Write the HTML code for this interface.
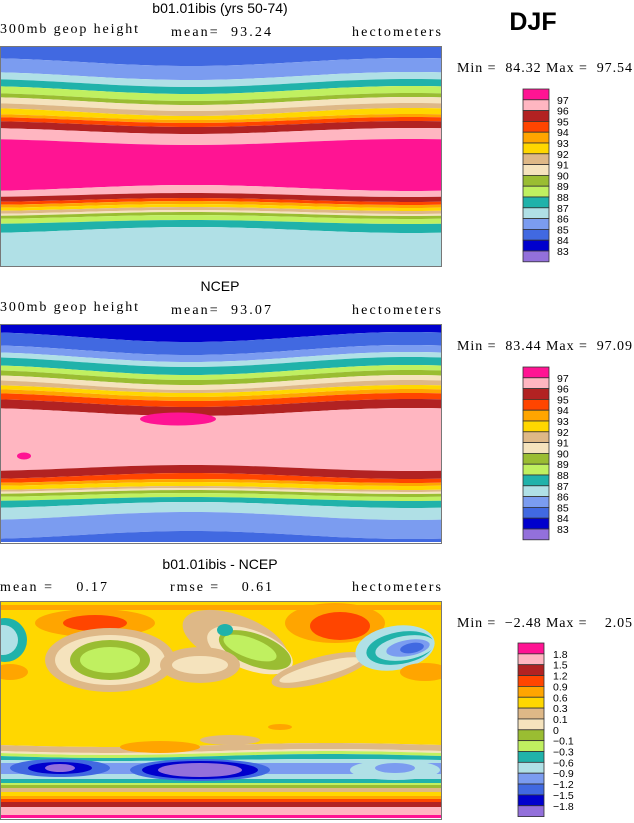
<!DOCTYPE html>
<html><head><meta charset="utf-8"><style>
html,body{margin:0;padding:0;background:#fff;width:634px;height:823px;overflow:hidden}
svg{display:block}
.t{font-family:"Liberation Sans",sans-serif;font-size:14px}
.s{font-family:"Liberation Serif",serif;font-size:14px;white-space:pre}
.l{font-family:"Liberation Sans",sans-serif;font-size:10.5px}
</style></head><body>
<svg id="s" width="634" height="823" xmlns="http://www.w3.org/2000/svg" xml:space="preserve">
<defs>
<clipPath id="c1"><rect x="1" y="47" width="440" height="219"/></clipPath>
<clipPath id="c2"><rect x="1" y="325" width="440" height="218"/></clipPath>
<clipPath id="c3"><rect x="1" y="602" width="440" height="217"/></clipPath>
</defs>
<text x="220" y="13" class="t" text-anchor="middle">b01.01ibis (yrs 50-74)</text>
<text x="0" y="33" class="s" textLength="138" lengthAdjust="spacing">300mb geop height</text>
<text x="171" y="36" class="s" textLength="100" lengthAdjust="spacing">mean=  93.24</text>
<text x="352" y="36" class="s" textLength="89" lengthAdjust="spacing">hectometers</text>
<text x="533" y="30" font-family="Liberation Sans,sans-serif" font-weight="bold" font-size="25" text-anchor="middle">DJF</text>
<text x="457" y="72" class="s" textLength="175" lengthAdjust="spacing">Min =  84.32 Max =  97.54</text>

<text x="220" y="291" class="t" text-anchor="middle">NCEP</text>
<text x="0" y="311" class="s" textLength="138" lengthAdjust="spacing">300mb geop height</text>
<text x="171" y="314" class="s" textLength="100" lengthAdjust="spacing">mean=  93.07</text>
<text x="352" y="314" class="s" textLength="89" lengthAdjust="spacing">hectometers</text>
<text x="457" y="350" class="s" textLength="175" lengthAdjust="spacing">Min =  83.44 Max =  97.09</text>

<text x="220" y="569" class="t" text-anchor="middle">b01.01ibis - NCEP</text>
<text x="0" y="591" class="s" textLength="107" lengthAdjust="spacing">mean =    0.17</text>
<text x="170" y="591" class="s" textLength="102" lengthAdjust="spacing">rmse =    0.61</text>
<text x="352" y="591" class="s" textLength="89" lengthAdjust="spacing">hectometers</text>
<text x="457" y="627" class="s" textLength="175" lengthAdjust="spacing">Min =  −2.48 Max =    2.05</text>
<g id="g1" clip-path="url(#c1)"></g>
<g id="g2" clip-path="url(#c2)"></g>
<g id="g3" clip-path="url(#c3)"></g>
<g id="g"></g>
</svg>
<script>
var NS="http://www.w3.org/2000/svg",g;
function el(t,a){var e=document.createElementNS(NS,t);for(var k in a)e.setAttribute(k,a[k]);g.appendChild(e);return e;}
var C={mg:'#ff1493',pk:'#ffb6c1',fb:'#b22222',ro:'#ff4500',or:'#ffa500',ye:'#ffd700',tn:'#deb887',wh:'#f5e3bd',gr:'#9abd32',lg:'#c0f060',te:'#20b2aa',pw:'#b0e0e6',lb:'#7b9cf0',rb:'#4169e1',db:'#0000cd',pu:'#9370db'};
function bands(top,bot,list,amp,ph){
 for(var i=0;i<list.length;i++){
  var c=list[i][0],y0=list[i][1],y1=(i+1<list.length)?list[i+1][1]:bot;
  var a0=(i==0)?0:list[i][2]||0,a1=(i+1<list.length)?(list[i+1][2]||0):0;
  var p=[];
  for(var x=1;x<=441;x+=10){p.push(x+','+Math.max(top,Math.min(bot,y0+a0*Math.cos(2*Math.PI*(x-ph)/440))));}
  for(var x=441;x>=1;x-=10){p.push(x+','+Math.max(top,Math.min(bot,y1+a1*Math.cos(2*Math.PI*(x-ph)/440))));}
  el('polygon',{points:p.join(' '),fill:C[c]});
 }
}
g=document.getElementById('g1');
bands(47,266,[['rb',47],['lb',62,4],['pw',76,4],['te',83,4],['lg',90,4],['gr',97,4],['wh',101,4],['tn',107,4],['ye',112,4],['or',117,3],['ro',120,3],['fb',124,3],['pk',131,3],['mg',142,3],['pk',188,-3],['fb',195,-2],['ro',200,-2],['or',203,-2],['ye',206,-2],['tn',209,-2],['wh',212,-2],['gr',214,-2],['lg',217,-2],['te',222,-2],['pw',230,-3]],0,190);
g=document.getElementById('g2');
bands(325,542,[['db',325],['rb',337,5],['lb',350,5],['pw',357,5],['te',362,5],['lg',370,5],['gr',375,5],['wh',380,5],['tn',385,5],['ye',389,4],['or',393,4],['ro',397,4],['fb',403,4],['pk',412,4],['fb',468,-3],['ro',476,-3],['or',481,-2],['ye',484,-2],['tn',488,-2],['wh',490,-2],['gr',492,-2],['lg',495,-2],['te',499,-2],['pw',505,-3],['lb',516,-4],['rb',535,-4]],0,190);
el('ellipse',{cx:178,cy:419,rx:38,ry:6.5,fill:C.mg});
el('ellipse',{cx:24,cy:456,rx:7,ry:3.5,fill:C.mg});
g=document.getElementById('g3');
function E(cx,cy,rx,ry,c,r){el('ellipse',{cx:cx,cy:cy,rx:rx,ry:ry,fill:C[c],transform:r?'rotate('+r+' '+cx+' '+cy+')':''});}
bands(602,818,[['ye',602],['or',605,0],['ye',610,0],['tn',745,-2],['wh',751,-2],['lg',753,-2],['te',756,-2],['pw',760,-1],['lb',763,0],['pw',774,0],['te',779,0],['lg',783,0],['gr',785,0],['tn',788,0],['ye',792,0],['or',796,0],['ro',799,0],['fb',802,0],['pk',807,0],['mg',815,0]],0,330);
E(60,768,50,9,'rb');E(60,768,32,6,'db');E(60,768,15,4,'pu');
E(200,770,70,11,'rb');E(200,770,58,9,'db');E(200,770,42,7,'pu');
E(395,770,45,10,'pw');E(395,768,20,5,'lb');
E(230,740,30,5,'tn');
E(160,747,40,6,'or');E(280,727,12,3,'or');
E(95,623,60,14,'or');E(95,623,32,8,'ro');
E(335,623,50,20,'or');E(340,626,30,14,'ro');
E(110,660,65,32,'tn');E(110,660,55,25,'wh');E(110,660,40,20,'gr');E(110,660,30,13,'lg');
E(235,640,55,25,'tn',20);E(250,650,45,20,'wh',20);E(255,650,38,16,'gr',20);E(250,648,28,10,'lg',20);
E(200,665,40,18,'tn');E(200,665,28,9,'wh');
E(320,670,50,13,'tn',-15);E(320,670,42,7,'wh',-15);
E(395,648,40,22,'pw',-10);E(400,648,34,16,'te',-10);E(405,648,30,12,'pw',-10);E(408,648,22,8,'lb',-10);E(412,648,12,5,'rb',-10);
E(5,640,22,22,'te');E(3,640,15,15,'pw');
E(10,672,18,8,'or');E(425,672,25,9,'or');
E(225,630,8,6,'te');
g=document.getElementById('g');
[[46,266],[324,543],[601,819]].forEach(function(b){el('rect',{x:0.5,y:b[0]+.5,width:441,height:b[1]-b[0],fill:'none',stroke:'#777','stroke-width':1});});
var cols=['mg','pk','fb','ro','or','ye','tn','wh','gr','lg','te','pw','lb','rb','db','pu'];
function leg(x,y,h,labs,lx){
 for(var i=0;i<16;i++){el('rect',{x:x,y:y+i*h,width:26,height:h,fill:C[cols[i]],stroke:'#333','stroke-width':0.8});}
 labs.forEach(function(s,i){var t=el('text',{x:lx,y:y+(i+1)*h+4,'class':'l'});t.textContent=s;});
}
var L1=['97','96','95','94','93','92','91','90','89','88','87','86','85','84','83'];
leg(523,89,10.8,L1,557);
leg(523,367,10.8,L1,557);
leg(518,643,10.85,['1.8','1.5','1.2','0.9','0.6','0.3','0.1','0','−0.1','−0.3','−0.6','−0.9','−1.2','−1.5','−1.8'],553);
</script>
</body></html>
